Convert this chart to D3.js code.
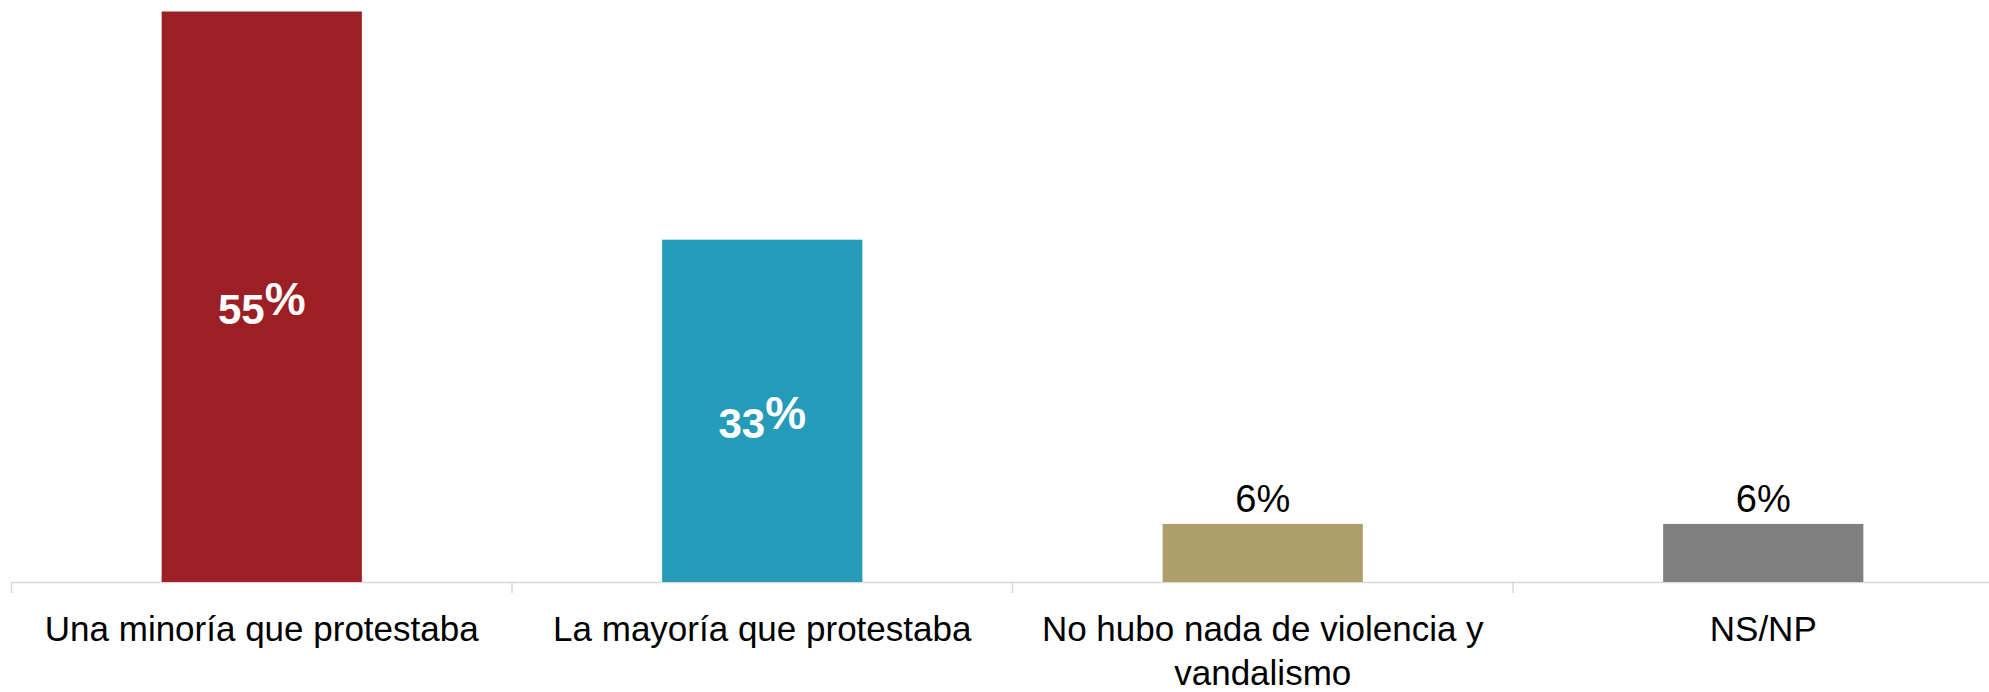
<!DOCTYPE html>
<html><head><meta charset="utf-8">
<script src="https://cdn.jsdelivr.net/npm/d3@7/dist/d3.min.js"></script>
<style>html,body{margin:0;padding:0;background:#fff;overflow:hidden}</style>
</head><body>
<svg id="chart" width="1989" height="692"></svg>
<script>
const categories = ["Una minoría que protestaba", "La mayoría que protestaba", "No hubo nada de violencia y|vandalismo", "NS/NP"];
const values = [55, 33, 5.6, 5.6];
const colors = ["#9B1F24", "#259AB9", "#AD9E6A", "#808080"];
const labelInside = [true, true, false, false];

const svg = d3.select("#chart");
const font = "'Liberation Sans Narrow', 'Liberation Sans', Arial, sans-serif";
const fmt = d3.format(".0f");
const baseY = 582;
const x = d3.scaleBand().domain(categories).range([11.5, 2013.5]).paddingInner(0.6).paddingOuter(0.3);
const y = d3.scaleLinear().domain([0, 55]).range([baseY, 11.5]);

// axis line and ticks
const xb = d3.scaleBand().domain(categories).range([11.5, 2013.5]);
svg.append("line").attr("x1", 11.5).attr("x2", 1989).attr("y1", baseY + 0.5).attr("y2", baseY + 0.5)
  .attr("stroke", "#d9d9d9").attr("stroke-width", 1.5);
svg.selectAll(".tick").data(categories).join("line")
  .attr("x1", d => xb(d)).attr("x2", d => xb(d))
  .attr("y1", baseY).attr("y2", baseY + 11)
  .attr("stroke", "#d9d9d9").attr("stroke-width", 1.5);

svg.selectAll(".bar").data(categories).join("rect")
  .attr("x", d => x(d)).attr("width", x.bandwidth())
  .attr("y", (d, i) => y(values[i])).attr("height", (d, i) => baseY - y(values[i]))
  .attr("fill", (d, i) => colors[i]);

// value labels
categories.forEach((c, i) => {
  const cx = x(c) + x.bandwidth() / 2;
  if (labelInside[i]) {
    const t = svg.append("text").attr("x", cx).attr("y", (y(values[i]) + baseY) / 2 + 27)
      .attr("text-anchor", "middle").attr("fill", "#fff").attr("font-family", font)
      .attr("font-weight", "bold").attr("font-size", 42);
    t.append("tspan").text(fmt(values[i]));
    t.append("tspan").attr("dy", -9).attr("font-size", 46).text("%");
  } else {
    svg.append("text").attr("x", cx).attr("y", y(values[i]) - 12)
      .attr("text-anchor", "middle").attr("fill", "#000").attr("font-family", font)
      .attr("font-size", 38).text(fmt(values[i]) + "%");
  }
  const lines = c.split("|");
  lines.forEach((ln, j) => {
    svg.append("text").attr("x", xb(c) + xb.bandwidth() / 2).attr("y", 641 + j * 44)
      .attr("text-anchor", "middle").attr("fill", "#000").attr("font-family", font)
      .attr("font-size", 35).text(ln);
  });
});
</script>
</body></html>
